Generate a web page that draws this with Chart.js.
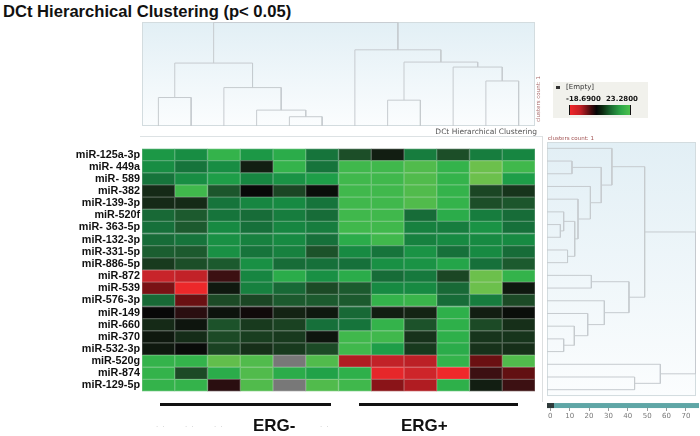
<!DOCTYPE html>
<html>
<head>
<meta charset="utf-8">
<script src="https://cdn.jsdelivr.net/npm/chart.js@4"></script>
<style>
  body { margin: 0; background: #fff; font-family: 'Liberation Sans', Arial, sans-serif; }
  #wrap { position: relative; width: 700px; height: 436px; overflow: hidden; }
  canvas, .abs { position: absolute; }
  #title { left: 3px; top: 2px; font: bold 16.6px 'Liberation Sans', Arial; color: #111; }
  .small { font: 7px 'DejaVu Sans', sans-serif; }
  .erg { font: bold 17px 'Liberation Sans', Arial; color: #111; }
</style>
</head>
<body>
<div id="wrap">
  <div id="title" class="abs">DCt Hierarchical Clustering (p&lt; 0.05)</div>

  <canvas id="topDendro" width="400" height="110" style="left:140px;top:20px"></canvas>
  <div class="abs small" style="left:430px;top:127px;width:107px;text-align:right;font-size:7.5px;color:#555">DCt Hierarchical Clustering</div>
  <div class="abs" style="left:140px;top:136px;width:402px;height:1px;background:#dde2e4"></div>
  <div class="abs small" style="left:513px;top:96px;width:50px;text-align:center;font-size:5.5px;color:#a86a6a;transform:rotate(-90deg)">clusters count: 1</div>

  <!-- colour legend -->
  <div class="abs" style="left:553px;top:82px;width:95px;height:36px;background:#f1f1ec"></div>
  <div class="abs" style="left:556px;top:86px;width:4px;height:3px;background:#333"></div>
  <div class="abs small" style="left:566px;top:83px;font-size:7px;color:#333">[Empty]</div>
  <div class="abs small" style="left:566px;top:95px;font-size:7px;color:#111;font-weight:bold">-18.6900</div>
  <div class="abs small" style="left:606px;top:95px;font-size:7px;color:#111;font-weight:bold">23.2800</div>
  <div class="abs" style="left:569px;top:105px;width:60px;height:10px;border-left:1px solid #111;border-right:1px solid #111;background:linear-gradient(to right,#f0262a 0%,#c01e24 18%,#3a0a0c 36%,#060606 44%,#0c2a10 54%,#1a6a30 68%,#2ea848 85%,#4cc04c 100%)"></div>

  <canvas id="heat" width="540" height="260" style="left:0px;top:140px"></canvas>
  <div class="abs" style="left:542px;top:136px;width:1px;height:266px;background:#dcdfe0"></div>

  <div class="abs small" style="left:548px;top:135px;font-size:5.5px;color:#a05050">clusters count: 1</div>
  <canvas id="sideDendro" width="160" height="296" style="left:540px;top:140px"></canvas>

  <div class="abs" style="left:160px;top:403px;width:171px;height:3px;background:#111"></div>
  <div class="abs" style="left:359px;top:403px;width:159px;height:3px;background:#111"></div>
  <div class="abs erg" style="left:253px;top:416px">ERG-</div>
  <div class="abs erg" style="left:401px;top:416px">ERG+</div>
  <div class="abs small" style="left:156px;top:421px;color:#c4c4c4;letter-spacing:1px">. .&nbsp;&nbsp;&nbsp;&nbsp;&nbsp;&nbsp;. .&nbsp;&nbsp;&nbsp;&nbsp;&nbsp;&nbsp;. .</div>
  <div class="abs small" style="left:320px;top:421px;color:#c4c4c4;letter-spacing:1px">. .</div>
</div>

<script>
// miRNA rows, top to bottom
const rowLabels = ['miR-125a-3p', 'miR- 449a', 'miR- 589', 'miR-382', 'miR-139-3p', 'miR-520f',
  'miR- 363-5p', 'miR-132-3p', 'miR-331-5p', 'miR-886-5p', 'miR-872', 'miR-539', 'miR-576-3p',
  'miR-149', 'miR-660', 'miR-370', 'miR-532-3p', 'miR-520g', 'miR-874', 'miR-129-5p'];

// samples, left to right (6 ERG-, 6 ERG+)
const sampleLabels = ['S1', 'S2', 'S3', 'S4', 'S5', 'S6', 'S7', 'S8', 'S9', 'S10', 'S11', 'S12'];

// DCt values per row (null = empty cell)
const dctValues = [
  [17, 15, 21, 17, 20, 12, 7, 2, 13, 7, 13, 14],
  [15, 12, 15, 2, 21, 12, 22, 22, 22.5, 21, 23.3, 22],
  [12, 15, 18, 14, 16, 18, 22, 22, 22.5, 21, 23.3, 18],
  [3, 22, 8, 0, 6, 0.5, 22, 22, 22.5, 21, 6, 4],
  [3, 3, 12, 14, 14.5, 12, 22, 22, 22.5, 21, 7, 8],
  [10.5, 8.5, 12, 11, 13, 11, 22, 22, 11, 20, 13, 11],
  [11.5, 8.5, 14.5, 11.5, 14, 13, 22, 22, 13.5, 13, 16, 11.5],
  [11, 12, 15.5, 13.5, 14.5, 11.5, 20, 22, 13.5, 14.5, 14.5, 14.5],
  [9, 8.5, 15.5, 12, 13.5, 7.5, 14.5, 12, 16, 11.5, 14.5, 11],
  [4.5, 7, 8.5, 15.5, 11, 11.5, 11.5, 15.5, 16, 19, 11.5, 8.5],
  [-12, -11.5, -3, 14, 20, 15.5, 20, 11, 12.5, 6, 23.3, 21],
  [-7, -18, 1.5, 13.5, 10.5, 6.5, 8.5, 14.5, 14.5, 10.5, 23.3, 1.5],
  [10.5, -6, 6.5, 6, 8.5, 8.5, 8.5, 21, 21.5, 11, 13, 6.5],
  [0, -2, 1, -0.5, 2.5, 1.5, 10.5, 2, 2.5, 20.5, 2, 0.5],
  [3, 1.2, 7.5, 4.5, 5.5, 11.5, 12, 21, 7.5, 20.5, 6.5, 3.5],
  [1.5, 3.2, 6.5, 5, 4.5, 1.2, 22, 22, 3.8, 20.5, 4, 4],
  [1.5, 0.3, 5.5, 3.5, 4.5, 6.5, 22, 18, 4.5, 20, 3.8, 3.5],
  [21, 21, 23, 22.5, null, 22.5, -10, -11.5, -11, 21, -6, 22.5],
  [21, 6.5, 20, 22.5, 20, 18.5, 20.5, -17, -13, -18.5, -3, -5.5],
  [21, 21, -2, 22.5, null, 22.5, 22, -8, -10, 20.5, 2, -3]
];

// column dendrogram merges: [childA, childB, height]; leaves 0..11, nodes from 12
const colMerges = [
  [0, 1, 86], [4, 5, 28], [3, 13, 48], [2, 14, 116], [12, 15, 190],
  [7, 8, 78], [10, 11, 136], [9, 18, 178], [17, 19, 193], [6, 20, 230], [16, 21, 313]
];

// row dendrogram merges: [childA, childB, distance]; leaves 0..19, nodes from 20
const rowMerges = [
  [6, 7, 5.2], [5, 20, 6.9], [8, 9, 8.9], [21, 22, 12.6], [4, 23, 14.3], [3, 24, 20.7],
  [1, 2, 11.2], [26, 25, 26.3], [0, 27, 31.8], [15, 16, 6.9], [14, 29, 12.4], [13, 30, 19.3],
  [12, 31, 27.9], [10, 11, 21.2], [33, 32, 40.6], [28, 34, 48.7], [18, 19, 43.5], [17, 36, 56.8],
  [35, 37, 75.0]
];

const distanceTicks = [0, 10, 20, 30, 40, 50, 60, 70];
const dctMin = -18.69, dctMax = 23.28;

// colour ramp red - black - green
const rampStops = [
  [-18.69, [240, 40, 42]], [-12, [200, 36, 42]], [-10, [176, 28, 34]], [-8, [138, 20, 24]],
  [-6, [106, 16, 18]], [-3, [60, 16, 18]], [-2, [42, 14, 16]], [0, [8, 8, 8]],
  [2.5, [20, 36, 20]], [4.5, [24, 58, 30]], [6.5, [28, 74, 38]], [8.5, [28, 90, 46]],
  [11.5, [22, 112, 58]], [14.5, [23, 138, 66]], [18, [30, 158, 72]], [20.5, [46, 176, 74]],
  [22, [64, 184, 76]], [23.28, [108, 192, 76]]
];

function rampRgb(v) {
  if (v == null) return [120, 120, 120];
  v = Math.max(dctMin, Math.min(dctMax, v));
  for (let i = 1; i < rampStops.length; i++) {
    const [v1, c1] = rampStops[i];
    const [v0, c0] = rampStops[i - 1];
    if (v <= v1) {
      const t = (v - v0) / (v1 - v0);
      return c0.map((c, k) => Math.round(c + (c1[k] - c) * t));
    }
  }
  return rampStops[rampStops.length - 1][1];
}
const rgb = c => `rgb(${c[0]},${c[1]},${c[2]})`;
const edge = c => rgb(c.map(x => Math.round(x + (235 - x) * 0.3)));

// builds line segments of a dendrogram from merge list
function dendroSegments(merges, leafCount, leafBase, horizontal) {
  const pos = [], lev = [];
  for (let i = 0; i < leafCount; i++) { pos.push(i); lev.push(leafBase); }
  const sets = [];
  merges.forEach(([a, b, h]) => {
    const pts = [[pos[a], lev[a]], [pos[a], h], [pos[b], h], [pos[b], lev[b]]];
    sets.push(pts.map(([p, l]) => horizontal ? { x: l, y: p } : { x: p, y: l }));
    pos.push((pos[a] + pos[b]) / 2);
    lev.push(h);
  });
  return sets.map(data => ({
    data, showLine: true, pointRadius: 0, borderColor: '#c6cbcf', borderWidth: 1, tension: 0
  }));
}

const panelBg = {
  id: 'panelBg',
  beforeDraw(chart, args, opts) {
    const { ctx, chartArea: a } = chart;
    const bottom = opts.bottomValue != null ? chart.scales.y.getPixelForValue(opts.bottomValue) : a.bottom;
    const g = ctx.createLinearGradient(0, a.top, 0, bottom);
    g.addColorStop(0, '#e2eff5');
    g.addColorStop(1, '#fbfdfe');
    ctx.save();
    ctx.fillStyle = g;
    ctx.fillRect(a.left, a.top, a.right - a.left, bottom - a.top);
    ctx.strokeStyle = '#d3dcdf';
    ctx.lineWidth = 1;
    ctx.strokeRect(a.left + 0.5, a.top + 0.5, a.right - a.left - 1, bottom - a.top - 1);
    if (opts.scrollbar) {
      ctx.fillStyle = '#5fa6a6';
      ctx.fillRect(a.left, bottom + 7, a.right - a.left + 3, 5);
      ctx.fillStyle = '#2e3a3a';
      ctx.fillRect(a.left, bottom + 7, 7, 5);
    }
    ctx.restore();
  }
};

// top (sample) dendrogram
new Chart(document.getElementById('topDendro'), {
  type: 'scatter',
  data: { datasets: dendroSegments(colMerges, sampleLabels.length, 0, false) },
  options: {
    responsive: false, animation: false,
    layout: { padding: { left: 2, right: 5, top: 2, bottom: 4 } },
    plugins: { legend: { display: false }, tooltip: { enabled: false }, panelBg: {} },
    scales: {
      x: { display: false, min: -0.5, max: sampleLabels.length - 0.5 },
      y: { display: false, min: 0, max: 314 }
    }
  },
  plugins: [panelBg]
});

// heatmap as stacked horizontal bars, one dataset per sample
new Chart(document.getElementById('heat'), {
  type: 'bar',
  data: {
    labels: rowLabels,
    datasets: sampleLabels.map((s, j) => ({
      label: s,
      data: rowLabels.map(() => 1),
      backgroundColor: dctValues.map(r => rgb(rampRgb(r[j]))),
      borderColor: dctValues.map(r => edge(rampRgb(r[j]))),
      borderWidth: 1,
      borderSkipped: false,
      barPercentage: 1,
      categoryPercentage: 1
    }))
  },
  options: {
    indexAxis: 'y', responsive: false, animation: false,
    layout: { padding: { left: 0, right: 5, top: 2, bottom: 3 } },
    plugins: { legend: { display: false }, tooltip: { enabled: false } },
    scales: {
      x: { display: false, stacked: true, min: 0, max: sampleLabels.length },
      y: {
        stacked: true,
        grid: { display: false, drawTicks: false }, border: { display: false },
        afterFit: s => { s.width = 142; },
        ticks: { autoSkip: false, padding: 2, color: '#111', font: { family: 'Liberation Sans', size: 10.8, weight: 'bold' } }
      }
    }
  }
});

// side (miRNA) dendrogram
new Chart(document.getElementById('sideDendro'), {
  type: 'scatter',
  data: { datasets: dendroSegments(rowMerges, rowLabels.length, -1.7, true) },
  options: {
    responsive: false, animation: false,
    layout: { padding: { left: 7, right: 4, top: 2, bottom: 0 } },
    plugins: { legend: { display: false }, tooltip: { enabled: false }, panelBg: { bottomValue: rowLabels.length - 0.5, scrollbar: true } },
    scales: {
      x: {
        min: -1.7, max: 75.2,
        afterBuildTicks: s => { s.ticks = distanceTicks.map(v => ({ value: v })); },
        afterFit: s => { s.height = 28; },
        grid: { drawOnChartArea: false, drawTicks: true, tickLength: 3, color: '#999' },
        border: { display: false },
        ticks: { padding: 1, color: '#777', font: { family: 'DejaVu Sans', size: 7 } }
      },
      y: { display: false, reverse: true, min: -0.5, max: rowLabels.length - 0.5 + 12 / 12.75 }
    }
  },
  plugins: [panelBg]
});
</script>
</body>
</html>
